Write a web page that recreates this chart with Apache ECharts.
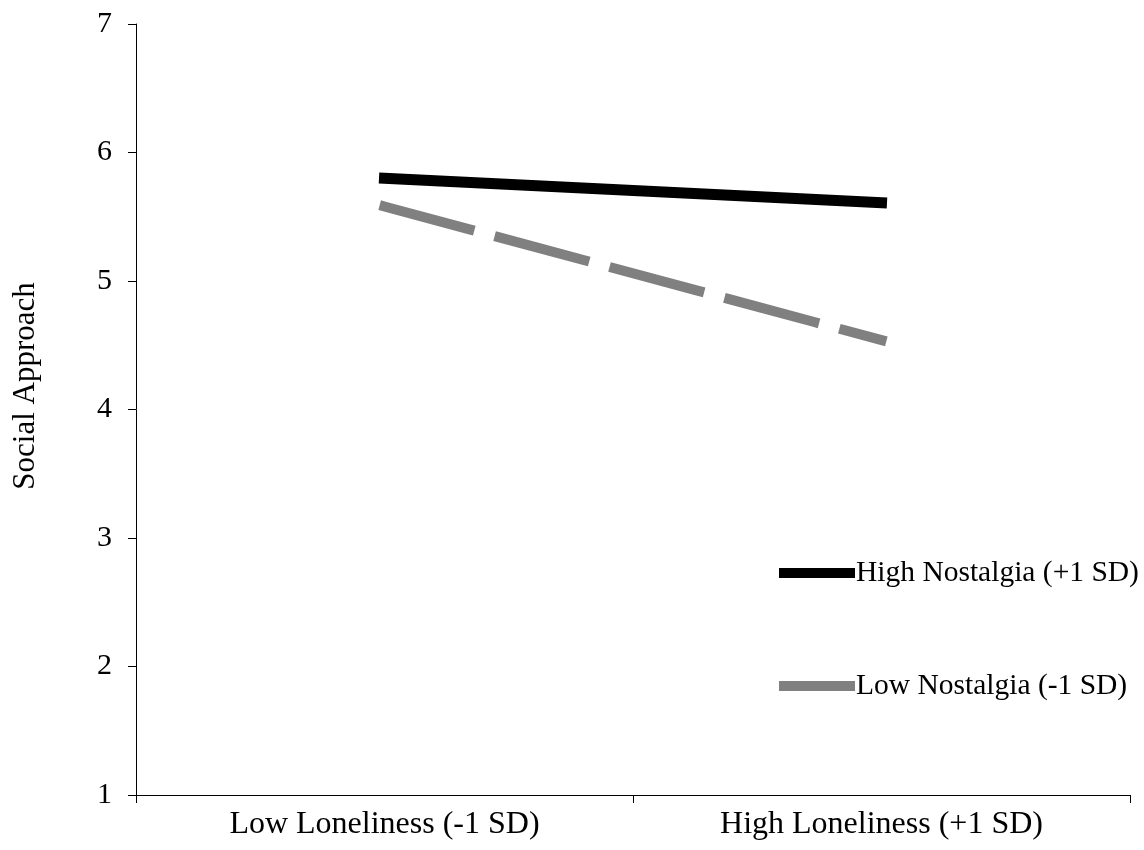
<!DOCTYPE html>
<html>
<head>
<meta charset="utf-8">
<script src="https://cdn.jsdelivr.net/npm/echarts@6/dist/echarts.min.js"></script>
<style>
  html, body { margin: 0; padding: 0; background: #fff; }
  #chart { width: 1144px; height: 850px; }
</style>
</head>
<body>
<div id="chart"></div>
<script>
// Simple-slopes plot: social approach by loneliness at two nostalgia levels
const categories = ['Low Loneliness (-1 SD)', 'High Loneliness (+1 SD)'];
const highNostalgia = [5.80, 5.61];
const lowNostalgia = [5.58, 4.54];
const yTicks = [1, 2, 3, 4, 5, 6, 7];
const seriesNames = ['High Nostalgia (+1 SD)', 'Low Nostalgia (-1 SD)'];
const yAxisTitle = 'Social Approach';

const FONT = '"Liberation Serif", "Times New Roman", serif';

const chart = echarts.init(document.getElementById('chart'), null, { renderer: 'canvas' });

chart.setOption({
  animation: false,
  backgroundColor: '#fff',
  textStyle: { fontFamily: FONT, color: '#000' },
  grid: { left: 136, right: 14, top: 24, bottom: 55, containLabel: false },
  xAxis: {
    type: 'category',
    data: categories,
    boundaryGap: true,
    axisLine: { lineStyle: { color: '#000', width: 1 } },
    axisTick: { show: true, length: 8, lineStyle: { color: '#000' } },
    axisLabel: { color: '#000', fontFamily: FONT, fontSize: 32, margin: 14 },
    splitLine: { show: false }
  },
  yAxis: {
    type: 'value',
    min: yTicks[0],
    max: yTicks[yTicks.length - 1],
    interval: 1,
    axisLine: { show: true, lineStyle: { color: '#000', width: 1 } },
    axisTick: { show: true, length: 8, lineStyle: { color: '#000' } },
    axisLabel: { color: '#000', fontFamily: FONT, fontSize: 30, margin: 24 },
    splitLine: { show: false }
  },
  legend: {
    orient: 'vertical',
    left: 779,
    top: 558,
    padding: 0,
    itemWidth: 76,
    itemHeight: 10,
    itemGap: 83,
    icon: 'rect',
    textStyle: { fontFamily: FONT, fontSize: 29.5, color: '#000', padding: [0, 0, 0, -4] },
    data: [
      { name: seriesNames[0], itemStyle: { color: '#000' } },
      { name: seriesNames[1], itemStyle: { color: '#808080' } }
    ]
  },
  graphic: [{
    type: 'text',
    rotation: Math.PI / 2,
    x: 26,
    y: 386,
    style: {
      text: yAxisTitle,
      font: '31px ' + FONT,
      fill: '#000',
      align: 'center',
      verticalAlign: 'middle'
    }
  }],
  series: [
    {
      name: seriesNames[0],
      type: 'line',
      data: highNostalgia,
      symbol: 'none',
      lineStyle: { color: '#000', width: 11, cap: 'square' },
      itemStyle: { color: '#000' }
    },
    {
      name: seriesNames[1],
      type: 'line',
      data: lowNostalgia,
      symbol: 'none',
      lineStyle: { color: '#808080', width: 10, type: [88, 31], cap: 'square' },
      itemStyle: { color: '#808080' }
    }
  ]
});
</script>
</body>
</html>
